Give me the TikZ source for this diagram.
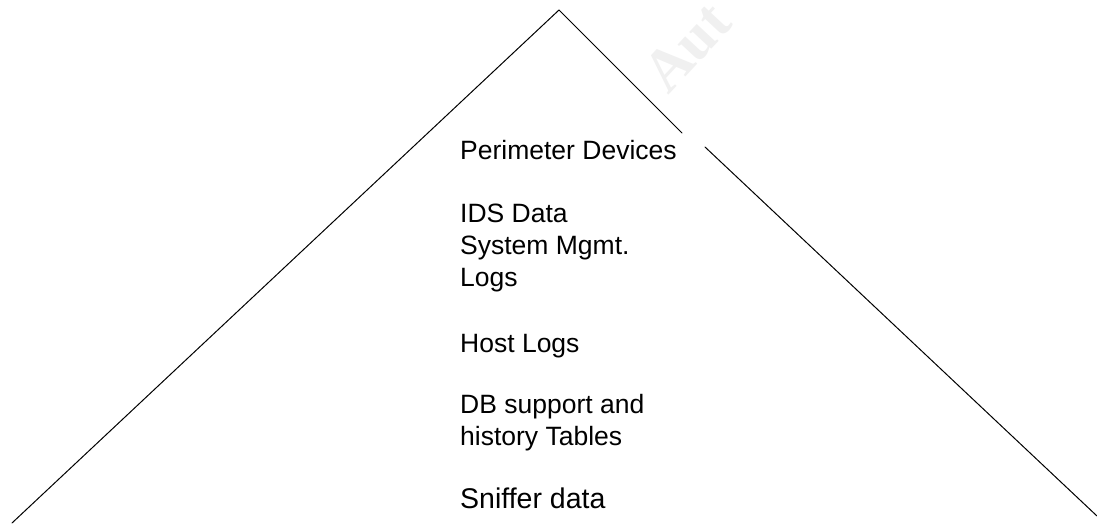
\documentclass[tikz,border=0pt]{standalone}
\usepackage{fontspec}
\setmainfont{Liberation Sans}
\newfontfamily\wmfont{Liberation Serif}
\tikzset{
  lbl/.style={anchor=base west, inner sep=0pt, font=\fontsize{26.5}{32}\selectfont},
  lblbig/.style={anchor=base west, inner sep=0pt, font=\fontsize{28.5}{34}\selectfont},
  edge/.style={line width=1pt, black, line cap=round},
  wm/.style={anchor=base west, inner sep=0pt, rotate=47, text=black!6, font=\wmfont\bfseries\fontsize{60}{62}\selectfont}
}
\begin{document}
\begin{tikzpicture}[x=1pt, y=-1pt]
  \useasboundingbox (0,0) rectangle (1097,523);
  \clip (0,0) rectangle (1097,523);
  \fill[white] (0,0) rectangle (1097,523);
  % faint watermark
  \node[wm] (wmark) at (668,96) {Aut};
  % pyramid outline
  \coordinate (apex) at (559,10);
  \coordinate (leftend) at (12,523);
  \coordinate (rgapA) at (682,133);
  \coordinate (rgapB) at (705,147);
  \coordinate (rightend) at (1097,516);
  \draw[edge] (leftend) -- (apex) -- (rgapA);
  \draw[edge] (rgapB) -- (rightend);
  % labels
  \node[lbl] (perim) at (460,159.3) {Perimeter Devices};
  \node[lbl] (ids) at (460,222.7) {IDS Data};
  \node[lbl] (sysm) at (460,254.3) {System Mgmt.};
  \node[lbl] (logs) at (460,286.7) {Logs};
  \node[lbl] (host) at (460,352.3) {Host Logs};
  \node[lbl] (db) at (460,413.3) {DB support and};
  \node[lbl] (hist) at (460,445) {history Tables};
  \node[lblbig] (sniff) at (460,508.3) {Sniffer data};
\end{tikzpicture}
\end{document}
